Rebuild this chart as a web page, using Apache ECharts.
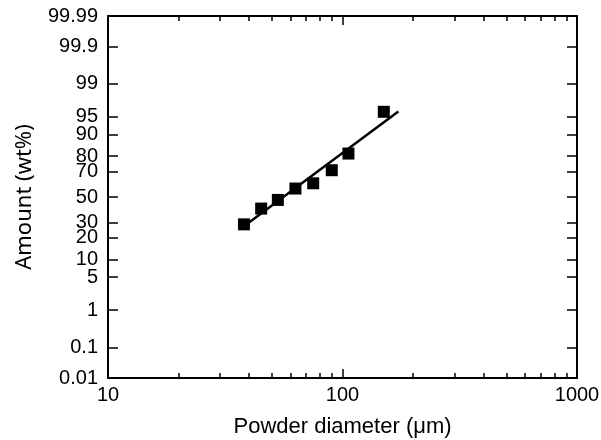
<!DOCTYPE html>
<html>
<head>
<meta charset="utf-8">
<script src="https://cdn.jsdelivr.net/npm/echarts@6/dist/echarts.min.js"></script>
<style>
  html, body { margin: 0; padding: 0; background: #fff; }
  #chart { width: 601px; height: 440px; }
</style>
</head>
<body>
<div id="chart"></div>
<script>
// powder sieve sizes (µm) and cumulative amount (wt%)
const diameters = [38, 45, 53, 63, 75, 90, 106, 150];
const amounts = [28.7, 40.6, 47.6, 56.9, 61.1, 70.9, 81.4, 96.0];

// fitted line end points
const fitDiameters = [37, 173];
const fitAmounts = [26, 96.05];

// probability-scale tick labels (wt%)
const yTicks = ['0.01', '0.1', '1', '5', '10', '20', '30', '50', '70', '80', '90', '95', '99', '99.9', '99.99'];
const xMajorTicks = [10, 100, 1000];
const xMinorTicks = [20, 30, 40, 50, 60, 70, 80, 90, 200, 300, 400, 500, 600, 700, 800, 900];

// inverse normal cdf (Acklam), p in 0..1
function probit(p) {
  const a = [-39.69683028665376, 220.9460984245205, -275.9285104469687, 138.3577518672690, -30.66479806614716, 2.506628277459239];
  const b = [-54.47609879822406, 161.5858368580409, -155.6989798598866, 66.80131188771972, -13.28068155288572];
  const c = [-0.007784894002430293, -0.3223964580411365, -2.400758277161838, -2.549732539343734, 4.374664141464968, 2.938163982698783];
  const d = [0.007784695709041462, 0.3224671290700398, 2.445134137142996, 3.754408661907416];
  const pl = 0.02425;
  let q, r;
  if (p < pl) {
    q = Math.sqrt(-2 * Math.log(p));
    return (((((c[0]*q+c[1])*q+c[2])*q+c[3])*q+c[4])*q+c[5]) / ((((d[0]*q+d[1])*q+d[2])*q+d[3])*q+1);
  }
  if (p > 1 - pl) {
    q = Math.sqrt(-2 * Math.log(1 - p));
    return -(((((c[0]*q+c[1])*q+c[2])*q+c[3])*q+c[4])*q+c[5]) / ((((d[0]*q+d[1])*q+d[2])*q+d[3])*q+1);
  }
  q = p - 0.5;
  r = q * q;
  return (((((a[0]*r+a[1])*r+a[2])*r+a[3])*r+a[4])*r+a[5])*q / (((((b[0]*r+b[1])*r+b[2])*r+b[3])*r+b[4])*r+1);
}
const z = pct => probit(pct / 100);

const yTickZ = yTicks.map(t => z(parseFloat(t)));
const yMin = yTickZ[0];
const yMax = yTickZ[yTickZ.length - 1];

function yLabel(v) {
  let best = 0;
  yTickZ.forEach((t, i) => { if (Math.abs(t - v) < Math.abs(yTickZ[best] - v)) best = i; });
  return yTicks[best];
}

const font = 'Liberation Sans, Arial, sans-serif';
const black = '#000';

function xAxisBase(pos, ticks, len, showLine, showLabel) {
  return {
    type: 'log',
    logBase: 10,
    min: 10,
    max: 1000,
    position: pos,
    axisLine: { show: showLine, onZero: false, lineStyle: { color: black, width: 2 } },
    axisTick: { inside: true, length: len, customValues: ticks, lineStyle: { color: black, width: 1.5 } },
    axisLabel: {
      show: showLabel, customValues: ticks, formatter: v => String(v),
      color: black, fontSize: 20, fontFamily: font, margin: 7
    },
    splitLine: { show: false },
    minorTick: { show: false },
    minorSplitLine: { show: false }
  };
}

function yAxisBase(pos, showLabel) {
  return {
    type: 'value',
    min: yMin,
    max: yMax,
    position: pos,
    axisLine: { show: true, onZero: false, lineStyle: { color: black, width: 2 } },
    axisTick: { inside: true, length: 10, customValues: yTickZ, lineStyle: { color: black, width: 1.5 } },
    axisLabel: {
      show: showLabel, customValues: yTickZ, formatter: yLabel,
      color: black, fontSize: 20, fontFamily: font, margin: 10
    },
    splitLine: { show: false }
  };
}

const chart = echarts.init(document.getElementById('chart'), null, { renderer: 'canvas' });

const xBottom = xAxisBase('bottom', xMajorTicks, 9, true, true);
xBottom.name = 'Powder diameter (\u03bcm)';
xBottom.nameLocation = 'middle';
xBottom.nameGap = 38;
xBottom.nameTextStyle = { color: black, fontSize: 22, fontFamily: font };

const yLeft = yAxisBase('left', true);
yLeft.name = 'Amount (wt%)';
yLeft.nameLocation = 'middle';
yLeft.nameRotate = 90;
yLeft.nameGap = 72;
yLeft.nameTextStyle = { color: black, fontSize: 22, fontFamily: 'Noto Sans, Open Sans, sans-serif' };

chart.setOption({
  animation: false,
  backgroundColor: '#fff',
  grid: { left: 108, right: 24, top: 16, bottom: 62, outerBoundsMode: 'none' },
  xAxis: [
    xBottom,
    xAxisBase('bottom', xMinorTicks, 5, false, false),
    xAxisBase('top', xMajorTicks, 9, true, false),
    xAxisBase('top', xMinorTicks, 5, false, false)
  ],
  yAxis: [yLeft, yAxisBase('right', false)],
  series: [
    {
      type: 'line',
      xAxisIndex: 0,
      yAxisIndex: 0,
      data: fitDiameters.map((d, i) => [d, z(fitAmounts[i])]),
      symbol: 'none',
      lineStyle: { color: black, width: 2.5 },
      z: 2
    },
    {
      type: 'scatter',
      xAxisIndex: 0,
      yAxisIndex: 0,
      data: diameters.map((d, i) => [d, z(amounts[i])]),
      symbol: 'rect',
      symbolSize: 12,
      itemStyle: { color: black, opacity: 1 },
      z: 3
    }
  ]
});
</script>
</body>
</html>
